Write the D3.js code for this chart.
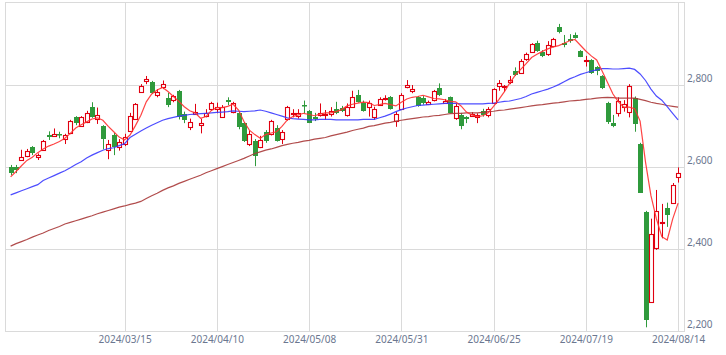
<!DOCTYPE html>
<html><head><meta charset="utf-8">
<script src="https://cdn.jsdelivr.net/npm/d3@7/dist/d3.min.js"></script>
<style>
html,body{margin:0;padding:0;background:#fff;}
svg{display:block;}
text{font-family:"Noto Sans","DejaVu Sans",sans-serif;}
</style></head>
<body>
<svg id="chart" width="726" height="355"></svg>
<script>
const dates = ["2024/02/14","2024/02/15","2024/02/16","2024/02/19","2024/02/20","2024/02/21","2024/02/22","2024/02/26","2024/02/27","2024/02/28","2024/02/29",
"2024/03/01","2024/03/04","2024/03/05","2024/03/06","2024/03/07","2024/03/08","2024/03/11","2024/03/12","2024/03/13","2024/03/14","2024/03/15","2024/03/18","2024/03/19","2024/03/21","2024/03/22","2024/03/25","2024/03/26","2024/03/27","2024/03/28","2024/03/29",
"2024/04/01","2024/04/02","2024/04/03","2024/04/04","2024/04/05","2024/04/08","2024/04/09","2024/04/10","2024/04/11","2024/04/12","2024/04/15","2024/04/16","2024/04/17","2024/04/18","2024/04/19","2024/04/22","2024/04/23","2024/04/24","2024/04/25","2024/04/26","2024/04/30",
"2024/05/01","2024/05/02","2024/05/07","2024/05/08","2024/05/09","2024/05/10","2024/05/13","2024/05/14","2024/05/15","2024/05/16","2024/05/17","2024/05/20","2024/05/21","2024/05/22","2024/05/23","2024/05/24","2024/05/27","2024/05/28","2024/05/29","2024/05/30","2024/05/31",
"2024/06/03","2024/06/04","2024/06/05","2024/06/06","2024/06/07","2024/06/10","2024/06/11","2024/06/12","2024/06/13","2024/06/14","2024/06/17","2024/06/18","2024/06/19","2024/06/20","2024/06/21","2024/06/24","2024/06/25","2024/06/26","2024/06/27","2024/06/28",
"2024/07/01","2024/07/02","2024/07/03","2024/07/04","2024/07/05","2024/07/08","2024/07/09","2024/07/10","2024/07/11","2024/07/12","2024/07/16","2024/07/17","2024/07/18","2024/07/19","2024/07/22","2024/07/23","2024/07/24","2024/07/25","2024/07/26","2024/07/29","2024/07/30","2024/07/31",
"2024/08/01","2024/08/02","2024/08/05","2024/08/06","2024/08/07","2024/08/08","2024/08/09","2024/08/13","2024/08/14"];

const open = [2599,2601,2617,2627,2648,2625,2642,2677,2676,2681,2668,2682,2721,2700,2710,2746,2716,2700,2642,2678,2648,2655,2689,2718,2784,2809,2807,2775,2796,2768,2763,2785,2729,2698,2729,2702,2724,2741,2742,2721,2763,2735,2732,2707,2656,2664,2650,2685,2681,2694,2668,2716,2729,2724,2752,2737,2721,2727,2726,2729,2741,2744,2726,2747,2775,2755,2746,2721,2751,2766,2770,2713,2741,2794,2786,2770,2768,2753,2763,2792,2757,2770,2719,2727,2723,2725,2721,2737,2727,2755,2798,2794,2807,2835,2829,2863,2881,2903,2881,2875,2895,2942,2902,2912,2922,2884,2858,2861,2843,2822,2757,2707,2732,2746,2735,2768,2656,2490,2271,2403,2463,2499,2511,2575];
const high = [2605,2605,2642,2644,2651,2633,2666,2687,2694,2686,2681,2715,2724,2724,2737,2758,2745,2702,2666,2683,2668,2681,2732,2756,2802,2822,2810,2790,2811,2781,2776,2788,2735,2718,2754,2718,2741,2759,2757,2751,2770,2759,2737,2710,2689,2668,2676,2690,2715,2702,2690,2749,2741,2741,2762,2739,2732,2755,2739,2746,2759,2749,2755,2786,2788,2762,2762,2747,2770,2775,2773,2735,2780,2812,2800,2773,2773,2762,2788,2804,2766,2772,2755,2732,2724,2734,2731,2742,2746,2792,2812,2800,2822,2843,2863,2879,2902,2908,2885,2907,2915,2949,2922,2924,2928,2885,2871,2863,2846,2824,2759,2727,2770,2763,2802,2772,2659,2493,2474,2544,2510,2513,2561,2599];
const low = [2580,2585,2615,2624,2629,2617,2639,2666,2674,2670,2656,2680,2702,2698,2707,2720,2705,2643,2619,2629,2640,2651,2688,2717,2781,2802,2778,2770,2790,2746,2758,2716,2707,2690,2727,2682,2721,2737,2731,2720,2751,2731,2692,2661,2651,2602,2646,2659,2677,2662,2656,2713,2721,2718,2731,2707,2712,2723,2715,2723,2729,2734,2723,2744,2757,2735,2723,2715,2749,2762,2740,2698,2739,2792,2780,2747,2752,2751,2760,2773,2754,2731,2715,2692,2707,2723,2707,2723,2721,2754,2786,2783,2802,2822,2827,2859,2879,2881,2868,2871,2892,2926,2892,2903,2913,2868,2845,2827,2824,2790,2705,2697,2723,2735,2721,2686,2537,2209,2271,2398,2426,2454,2510,2562];
const close = [2586,2593,2625,2640,2633,2629,2663,2674,2681,2677,2678,2711,2708,2721,2732,2721,2728,2668,2656,2648,2662,2672,2724,2754,2798,2814,2780,2783,2802,2752,2772,2721,2715,2710,2733,2707,2731,2755,2746,2747,2759,2755,2698,2664,2681,2627,2666,2664,2711,2664,2685,2746,2732,2732,2748,2708,2716,2732,2729,2736,2732,2737,2747,2770,2759,2737,2755,2742,2767,2769,2742,2729,2775,2800,2790,2749,2757,2759,2785,2776,2762,2732,2749,2700,2716,2729,2726,2727,2741,2790,2806,2798,2811,2824,2859,2876,2900,2884,2871,2897,2912,2930,2898,2908,2915,2869,2861,2829,2835,2793,2710,2700,2760,2754,2798,2705,2537,2227,2437,2492,2466,2483,2556,2586];

const ma5 = [2576,2589,2603,2616,2624,2635,2644,2651,2656,2662,2670,2682,2695,2703,2710,2717,2720,2714,2699,2686,2673,2666,2678,2701,2726,2759,2778,2788,2794,2784,2772,2760,2747,2737,2732,2719,2723,2738,2745,2745,2748,2753,2739,2711,2690,2679,2670,2679,2683,2686,2699,2715,2723,2727,2731,2728,2725,2729,2732,2732,2735,2740,2749,2753,2756,2758,2757,2750,2752,2755,2752,2749,2758,2766,2770,2772,2775,2771,2767,2766,2764,2760,2759,2749,2734,2727,2723,2725,2732,2748,2765,2784,2805,2824,2838,2852,2867,2875,2882,2888,2893,2896,2902,2908,2911,2897,2883,2871,2861,2834,2806,2778,2759,2746,2746,2742,2712,2612,2530,2474,2430,2422,2473,2512];
const ma25 = [2532,2537,2542,2547,2552,2557,2567,2573,2579,2585,2591,2598,2606,2613,2622,2629,2635,2641,2645,2647,2652,2657,2672,2680,2688,2695,2702,2708,2714,2718,2721,2724,2726,2728,2729,2730,2731,2732,2733,2734,2735,2737,2736,2735,2736,2737,2739,2736,2732,2728,2724,2720,2718,2717,2716,2715,2715,2716,2716,2716,2715,2715,2715,2715,2715,2716,2716,2716,2720,2724,2729,2735,2740,2744,2747,2750,2751,2752,2753,2754,2755,2755,2755,2754,2754,2754,2754,2754,2755,2756,2758,2760,2761,2764,2767,2772,2778,2782,2786,2790,2795,2801,2808,2815,2820,2826,2830,2834,2837,2840,2840,2839,2839,2840,2841,2838,2827,2811,2790,2773,2763,2747,2731,2715];
const ma75 = [2407,2413,2418,2423,2429,2434,2439,2445,2450,2455,2461,2465,2469,2473,2477,2481,2486,2490,2494,2498,2502,2505,2509,2512,2516,2523,2530,2536,2543,2549,2554,2560,2565,2570,2575,2580,2586,2591,2596,2601,2606,2611,2616,2621,2627,2633,2637,2641,2644,2648,2652,2655,2658,2660,2663,2665,2668,2670,2672,2676,2679,2682,2685,2689,2692,2695,2699,2701,2704,2707,2709,2712,2714,2716,2718,2720,2722,2723,2725,2726,2728,2730,2731,2731,2732,2732,2732,2733,2735,2736,2738,2739,2741,2743,2745,2747,2749,2751,2752,2754,2756,2757,2759,2761,2762,2763,2765,2766,2768,2769,2770,2769,2768,2768,2768,2768,2765,2762,2758,2755,2753,2750,2748,2746];

const yTicks = [2200, 2400, 2600, 2800];
const xTickLabels = ["2024/03/15","2024/04/10","2024/05/08","2024/05/31","2024/06/25","2024/07/19","2024/08/14"];

const W = 726, H = 355;
const plot = {left: 5.5, right: 684.5, top: 2.5, bottom: 331.5};
const svg = d3.select("#chart");

const x = d3.scalePoint().domain(dates).range([plot.left - 0.3, plot.right - 1]).padding(1);
const y = d3.scaleLinear().domain([2200, 3000]).range([331, 3]);

const gridColor = "#dadada";
const labelColor = "#6b7790";

// horizontal gridlines
svg.append("g").selectAll("line").data(yTicks).join("line")
  .attr("x1", plot.left).attr("x2", plot.right)
  .attr("y1", d => Math.round(y(d)) + 0.5).attr("y2", d => Math.round(y(d)) + 0.5)
  .attr("stroke", gridColor).attr("stroke-width", 1);

// vertical gridlines
svg.append("g").selectAll("line").data(xTickLabels).join("line")
  .attr("x1", d => Math.round(x(d)) + 0.5).attr("x2", d => Math.round(x(d)) + 0.5)
  .attr("y1", plot.top).attr("y2", plot.bottom)
  .attr("stroke", gridColor).attr("stroke-width", 1);

// plot border
svg.append("rect")
  .attr("x", plot.left).attr("y", plot.top)
  .attr("width", plot.right - plot.left).attr("height", plot.bottom - plot.top)
  .attr("fill", "none").attr("stroke", gridColor).attr("stroke-width", 1);

// candles
const upColor = "#e00010", downColor = "#2f9a3c";
const candles = svg.append("g").selectAll("g").data(dates).join("g");
candles.each(function(d, i) {
  const g = d3.select(this);
  const cx = Math.round(x(d));
  const up = close[i] >= open[i];
  const col = up ? upColor : downColor;
  g.append("line")
    .attr("x1", cx + 0.5).attr("x2", cx + 0.5)
    .attr("y1", y(high[i])).attr("y2", y(low[i]))
    .attr("stroke", col).attr("stroke-width", 1);
  const top = Math.round(y(Math.max(open[i], close[i])));
  const bot = Math.round(y(Math.min(open[i], close[i])));
  if (up) {
    g.append("rect")
      .attr("x", cx - 1.5).attr("y", top + 0.5)
      .attr("width", 4).attr("height", Math.max(1, bot - top))
      .attr("fill", "#fff").attr("stroke", col).attr("stroke-width", 1.1);
  } else {
    g.append("rect")
      .attr("x", cx - 2).attr("y", top)
      .attr("width", 5).attr("height", Math.max(1.5, bot - top))
      .attr("fill", col);
  }
});

// moving averages
const lineGen = arr => d3.line().x((d, i) => x(dates[i])).y(d => y(d))(arr);
svg.append("path").attr("d", lineGen(ma75)).attr("fill", "none")
  .attr("stroke", "#a83838").attr("stroke-width", 1.2).attr("stroke-opacity", 0.9);
svg.append("path").attr("d", lineGen(ma25)).attr("fill", "none")
  .attr("stroke", "#3a3aff").attr("stroke-width", 1.2).attr("stroke-opacity", 0.9);
svg.append("path").attr("d", lineGen(ma5)).attr("fill", "none")
  .attr("stroke", "#ff3030").attr("stroke-width", 1.2).attr("stroke-opacity", 0.9);

// y axis labels (right)
const yAxis = d3.axisRight(y).tickValues(yTicks).tickFormat(d3.format(",")).tickSize(0).tickPadding(0);
const yg = svg.append("g").attr("transform", `translate(${plot.right + 2.5},0)`).call(yAxis);
yg.select(".domain").remove();
yg.selectAll("text").attr("fill", labelColor).attr("font-size", 10)
  .attr("dy", "-0.35em").attr("font-family", '"Noto Sans","DejaVu Sans",sans-serif');

// x axis labels
const xAxis = d3.axisBottom(x).tickValues(xTickLabels).tickSize(0).tickPadding(0);
const xg = svg.append("g").attr("transform", `translate(0,${plot.bottom + 2.5})`).call(xAxis);
xg.select(".domain").remove();
xg.selectAll("text").attr("fill", labelColor).attr("font-size", 10)
  .attr("dy", "0.9em").attr("font-family", '"Noto Sans","DejaVu Sans",sans-serif');
</script>
</body></html>
